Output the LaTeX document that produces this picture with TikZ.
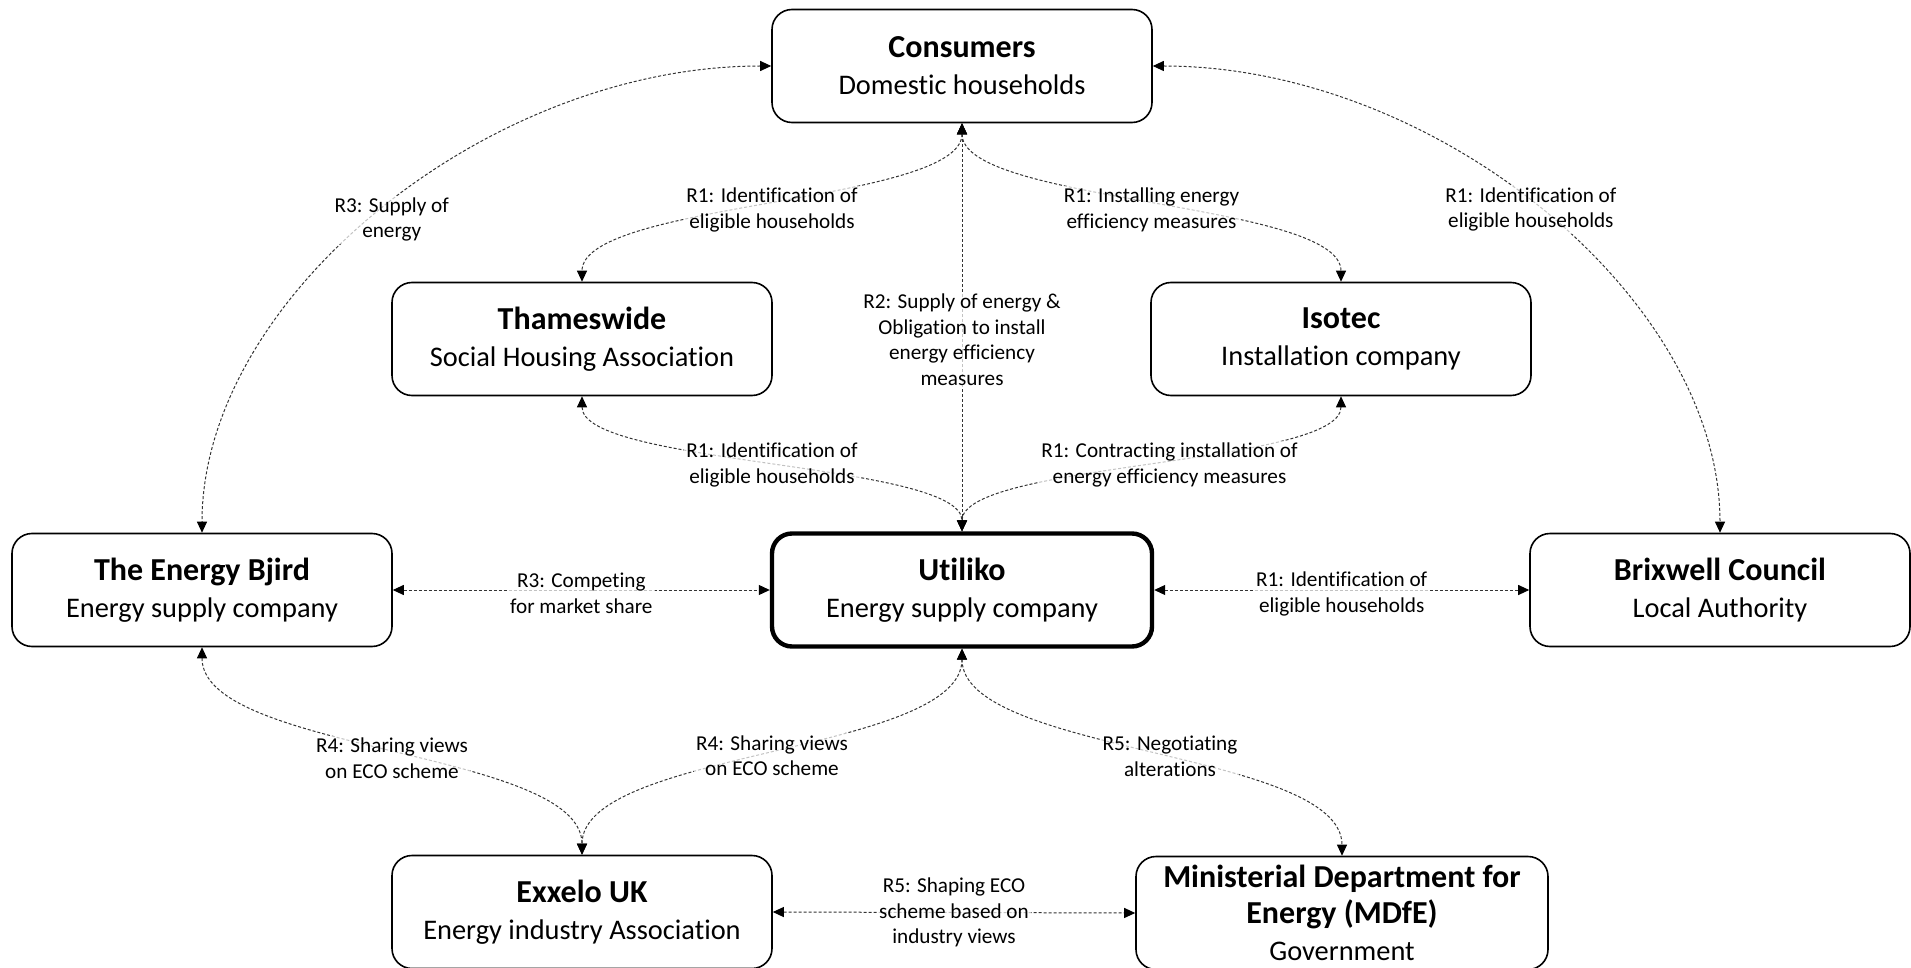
\documentclass[tikz,border=0pt]{standalone}
\usepackage{fontspec}
\setmainfont{Carlito}[Ligatures=NoCommon]
\usetikzlibrary{arrows.meta}
\begin{document}
\begin{tikzpicture}[x=0.5pt,y=-0.5pt,
  box/.style={draw, rounded corners=10pt, minimum width=190pt, minimum height=56.5pt,
    line width=0.8pt, align=center, inner sep=0pt, font=\fontsize{14.2}{18.6}\selectfont},
  mainbox/.style={box, line width=2.2pt},
  conn/.style={draw=black!80, line width=0.5pt, dash pattern=on 1.5pt off 1pt,
    {Triangle[length=5.5pt,width=5pt,color=black]}-{Triangle[length=5.5pt,width=5pt,color=black]}},
  lbl/.style={fill=white, fill opacity=0.7, text opacity=1, align=center,
    inner sep=1pt, font=\fontsize{10.6}{12.8}\selectfont}]
\newcommand\ttl[1]{{\fontsize{16}{18}\selectfont\bfseries #1}}

\useasboundingbox (0,0) rectangle (1911,968);

% actors
\node[box]     (cons)   at (962,66)  {\ttl{Consumers}\\Domestic households};
\node[box]     (thames) at (582,339) {\ttl{Thameswide}\\Social Housing Association};
\node[box]     (isotec) at (1341,339) {\ttl{Isotec}\\Installation company};
\node[box]     (bjird)  at (202,590) {\ttl{The Energy Bjird}\\Energy supply company};
\node[mainbox] (util)   at (962,590) {\ttl{Utiliko}\\Energy supply company};
\node[box]     (brix)   at (1720,590) {\ttl{Brixwell Council}\\Local Authority};
\node[box]     (exx)    at (582,912) {\ttl{Exxelo UK}\\Energy industry Association};
\node[box, minimum width=206pt] (mdfe) at (1342,913)
  {\ttl{Ministerial Department for}\\[-0.4pt]\ttl{Energy (MDfE)}\\Government};

% relationships
\draw[conn] (cons.west) .. controls +(-285,0) and +(0,-234) .. (bjird.north)
  node[lbl, pos=.5, xshift=6pt, yshift=-4pt] {R3: Supply of\\energy};
\draw[conn] (cons.east) .. controls +(284,0) and +(0,-234) .. (brix.north)
  node[lbl, pos=.5, xshift=-6pt, yshift=1pt] {R1: Identification of\\eligible households};
\draw[conn] (cons.south) .. controls +(0,80) and +(0,-80) .. (thames.north)
  node[lbl, pos=.5, yshift=-3.7pt] {R1: Identification of\\eligible households};
\draw[conn] (cons.south) .. controls +(0,80) and +(0,-80) .. (isotec.north)
  node[lbl, pos=.5, yshift=-3.7pt] {R1: Installing energy\\efficiency measures};
\draw[conn] (cons.south) -- (util.north)
  node[lbl, pos=.53] {R2: Supply of energy \&\\Obligation to install\\energy efficiency\\measures};
\draw[conn] (thames.south) .. controls +(0,69) and +(0,-69) .. (util.north)
  node[lbl, pos=.5, yshift=-0.5pt] {R1: Identification of\\eligible households};
\draw[conn] (isotec.south) .. controls +(0,69) and +(0,-69) .. (util.north)
  node[lbl, pos=.5, xshift=9pt, yshift=-0.5pt] {R1: Contracting installation of\\energy efficiency measures};
\draw[conn] (bjird.east) -- (util.west)
  node[lbl, midway, yshift=-1.5pt] {R3: Competing\\for market share};
\draw[conn] (util.east) -- (brix.west)
  node[lbl, midway, yshift=-2pt] {R1: Identification of\\eligible households};
\draw[conn] (bjird.south) .. controls +(0,105) and +(0,-105) .. (exx.north)
  node[lbl, pos=.5, yshift=-3.7pt] {R4: Sharing views\\on ECO scheme};
\draw[conn] (util.south) .. controls +(0,105) and +(0,-105) .. (exx.north)
  node[lbl, pos=.5, yshift=-2pt] {R4: Sharing views\\on ECO scheme};
\draw[conn] (util.south) .. controls +(0,105) and +(0,-105) .. (mdfe.north)
  node[lbl, pos=.5, xshift=9pt, yshift=-2pt] {R5: Negotiating\\alterations};
\draw[conn] (exx.east) -- (mdfe.west)
  node[lbl, midway] {R5: Shaping ECO\\scheme based on\\industry views};
\end{tikzpicture}
\end{document}
